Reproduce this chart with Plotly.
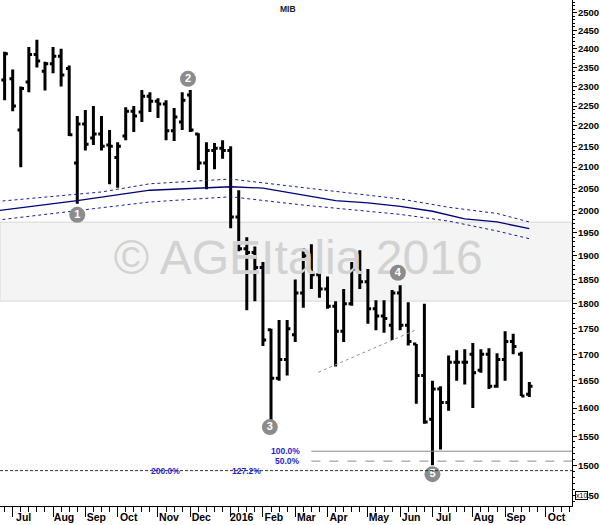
import plotly.graph_objects as go
import pandas as pd
import numpy as np

# ---------------- data ----------------
week_dates = pd.date_range("2015-06-26", periods=66, freq="7D")

open_ = [2317, 2320, 2190, 2312, 2385, 2340, 2360, 2380, 2347, 2110,
         2205, 2170, 2180, 2153, 2123, 2175, 2237, 2235, 2275, 2262,
         2255, 2188, 2210, 2278, 2180, 2110, 2140, 2145, 2140, 1985,
         1915, 1907, 1875, 1748, 1655, 1690, 1738, 1822, 1900, 1860,
         1830, 1795, 1745, 1800, 1872, 1845, 1790, 1775, 1757, 1822,
         1757, 1720, 1660, 1580, 1635, 1610, 1685, 1685, 1700, 1670,
         1700, 1640, 1690, 1725, 1700, 1625]
high = [2392, 2345, 2300, 2405, 2425, 2365, 2405, 2400, 2355, 2225,
        2240, 2250, 2225, 2190, 2160, 2247, 2250, 2291, 2285, 2270,
        2265, 2245, 2285, 2291, 2182, 2160, 2158, 2165, 2150, 2046,
        1940, 1920, 1887, 1750, 1767, 1767, 1850, 1917, 1925, 1895,
        1856, 1805, 1830, 1887, 1912, 1872, 1807, 1807, 1828, 1838,
        1803, 1720, 1800, 1650, 1640, 1698, 1708, 1710, 1722, 1710,
        1712, 1702, 1745, 1740, 1705, 1648]
low = [2265, 2237, 2100, 2285, 2350, 2290, 2335, 2300, 2175, 2015,
       2140, 2153, 2140, 2060, 2052, 2165, 2185, 2210, 2235, 2220,
       2165, 2163, 2190, 2185, 2093, 2048, 2095, 2120, 1960, 1910,
       1787, 1805, 1716, 1578, 1650, 1660, 1724, 1792, 1830, 1812,
       1790, 1677, 1724, 1796, 1830, 1760, 1747, 1742, 1728, 1747,
       1717, 1608, 1572, 1500, 1527, 1595, 1650, 1643, 1600, 1665,
       1635, 1637, 1650, 1700, 1622, 1620]
close = [2387, 2250, 2295, 2385, 2367, 2360, 2380, 2330, 2178, 2205,
         2155, 2180, 2150, 2150, 2150, 2237, 2225, 2275, 2262, 2255,
         2188, 2222, 2265, 2190, 2110, 2140, 2145, 2140, 1985, 1915,
         1907, 1875, 1728, 1655, 1690, 1750, 1822, 1900, 1860, 1830,
         1795, 1745, 1800, 1872, 1845, 1790, 1775, 1770, 1822, 1757,
         1725, 1660, 1575, 1635, 1610, 1685, 1685, 1685, 1665, 1700,
         1640, 1690, 1725, 1715, 1622, 1640]

# moving average and envelopes (values read at sample dates)
ma_dates = ["2015-06-19", "2015-08-28", "2015-10-30", "2015-12-18", "2016-01-08",
            "2016-02-05", "2016-03-11", "2016-04-08", "2016-05-06", "2016-06-03",
            "2016-07-01", "2016-07-29", "2016-08-26", "2016-09-23"]
ma_mid = [1999, 2022, 2046, 2052, 2054, 2051, 2034, 2022, 2017, 2009, 1998, 1981, 1974, 1959]
up_dates = ["2015-06-19", "2015-09-18", "2015-10-30", "2016-01-08", "2016-03-11",
            "2016-04-29", "2016-06-03", "2016-07-15", "2016-08-26", "2016-09-23"]
ma_up = [2020, 2042, 2061, 2072, 2052, 2037, 2026, 2007, 1993, 1974]
lo_dates = ["2015-06-19", "2015-08-28", "2015-10-30", "2016-01-08", "2016-03-11",
            "2016-06-03", "2016-07-15", "2016-08-26", "2016-09-23"]
ma_lo = [1978, 1999, 2019, 2031, 2012, 1991, 1976, 1954, 1937]

# wave labels
wave_text = ["1", "2", "3", "4", "5"]
wave_dates = ["2015-08-28", "2015-12-02", "2016-02-11", "2016-06-01", "2016-07-01"]
wave_vals = [1990, 2320, 1566, 1864, 1485]

# fibonacci levels
fib_100 = 1524
fib_50 = 1507
fib_ext = 1491

month_ticks = ["2015-07-03", "2015-08-07", "2015-09-04", "2015-10-02", "2015-11-06",
               "2015-12-04", "2016-01-08", "2016-02-05", "2016-03-04", "2016-04-01",
               "2016-05-06", "2016-06-03", "2016-07-01", "2016-08-05", "2016-09-02",
               "2016-10-07"]
month_text = ["Jul", "Aug", "Sep", "Oct", "Nov", "Dec", "2016", "Feb", "Mar", "Apr",
              "May", "Jun", "Jul", "Aug", "Sep", "Oct"]
y_ticks = list(range(1450, 2501, 50))
y_minor = list(range(1440, 2531, 10))

SANS = "Liberation Sans, Arial, sans-serif"
X0, X1 = "2015-06-22", "2016-10-30"

fig = go.Figure()

# watermark text (drawn beneath the bars)
fig.add_trace(go.Scatter(x=["2016-03-06 12:00"], y=[1887], mode="text",
                         text=["© AGEItalia 2016"], textposition="middle center",
                         textfont=dict(family=SANS, size=48, color="#d2d2d2"),
                         hoverinfo="skip"))

fig.add_trace(go.Scatter(x=ma_dates, y=ma_mid, mode="lines",
                         line=dict(color="#00007a", width=1.3), hoverinfo="skip"))
fig.add_trace(go.Scatter(x=up_dates, y=ma_up, mode="lines",
                         line=dict(color="#1c1c9a", width=1, dash="dot"), hoverinfo="skip"))
fig.add_trace(go.Scatter(x=lo_dates, y=ma_lo, mode="lines",
                         line=dict(color="#1c1c9a", width=1, dash="dot"), hoverinfo="skip"))

fig.add_trace(go.Ohlc(x=week_dates, open=open_, high=high, low=low, close=close,
                      increasing=dict(line=dict(color="black", width=3)),
                      decreasing=dict(line=dict(color="black", width=3)),
                      tickwidth=0.4, hoverinfo="skip"))

fig.add_trace(go.Scatter(x=wave_dates, y=wave_vals, mode="markers+text",
                         text=wave_text, textposition="middle center",
                         marker=dict(size=16, color="#8c8c8c"),
                         textfont=dict(color="white", size=11, family=SANS, weight="bold"),
                         hoverinfo="skip"))

# watermark band
fig.add_shape(type="rect", xref="paper", yref="paper", x0=0, x1=1, y0=0.405, y1=0.561,
              fillcolor="#f4f4f4", line=dict(color="#d6d6d6", width=1), layer="below")

# trend line
fig.add_shape(type="line", x0="2016-03-24", y0=1666, x1="2016-06-16", y1=1747,
              line=dict(color="#909090", width=1, dash="dot"))

# fib lines
fig.add_shape(type="line", x0="2016-03-18", x1=X1, y0=fib_100, y1=fib_100,
              line=dict(color="#8a8a8a", width=1))
fig.add_shape(type="line", x0="2016-03-18", x1=X1, y0=fib_50, y1=fib_50,
              line=dict(color="#8a8a8a", width=1, dash="dash"))
fig.add_shape(type="line", x0=X0, x1=X1, y0=fib_ext, y1=fib_ext,
              line=dict(color="#333333", width=1, dash="3px,2px"))
for txt, xd, yv in [("100.0%", "2016-03-10", fib_100), ("50.0%", "2016-03-10", fib_50),
                    ("200.0%", "2015-11-27", fib_ext), ("127.2%", "2016-02-05", fib_ext)]:
    fig.add_annotation(x=xd, y=np.log10(yv), text=txt, showarrow=False, xanchor="right",
                       yanchor="middle",
                       font=dict(family=SANS, size=8.5, color="#1f1fd0", weight="bold"))

# title
fig.add_annotation(xref="paper", yref="paper", x=0.503, y=0.982, text="MIB", showarrow=False,
                   yanchor="middle",
                   font=dict(family=SANS, size=8.5, color="#222222", weight="bold"))

# x10 box
fig.add_annotation(xref="paper", x=1.0, xshift=3, y=np.log10(1450), text="x10", showarrow=False,
                   xanchor="left", yanchor="middle", bgcolor="white", bordercolor="black",
                   borderwidth=1, borderpad=0,
                   font=dict(family=SANS, size=7, color="black"))

fig.update_layout(
    width=600, height=525, margin=dict(l=0, r=28, t=0, b=19),
    paper_bgcolor="white", plot_bgcolor="white", showlegend=False, hovermode=False,
    xaxis=dict(type="date", range=[X0, X1], rangeslider=dict(visible=False),
               showgrid=False, zeroline=False, showline=True, linecolor="black", linewidth=1,
               tickvals=month_ticks, ticktext=month_text, ticks="outside", ticklen=10,
               tickcolor="black", ticklabelshift=11, ticklabelstandoff=-9,
               tickfont=dict(family=SANS, size=10.5, color="black", weight="bold"),
               minor=dict(ticks="outside", ticklen=5, tickcolor="black",
                          dtick=7 * 86400000, tick0="2015-07-03")),
    yaxis=dict(type="log", side="right", range=[np.log10(1432.6), np.log10(2536)],
               showgrid=False, zeroline=False, showline=True, linecolor="black", linewidth=1,
               tickvals=y_ticks, ticktext=[str(v) for v in y_ticks], ticks="outside",
               ticklen=4, tickcolor="black", ticklabelstandoff=-1,
               tickfont=dict(family=SANS, size=9.5, color="black", weight="bold"),
               minor=dict(tickvals=y_minor, ticks="outside", ticklen=2, tickcolor="black")),
)

fig.write_html("out.html", config={"displayModeBar": False, "staticPlot": True},
               post_script="document.body.style.margin='0';")
